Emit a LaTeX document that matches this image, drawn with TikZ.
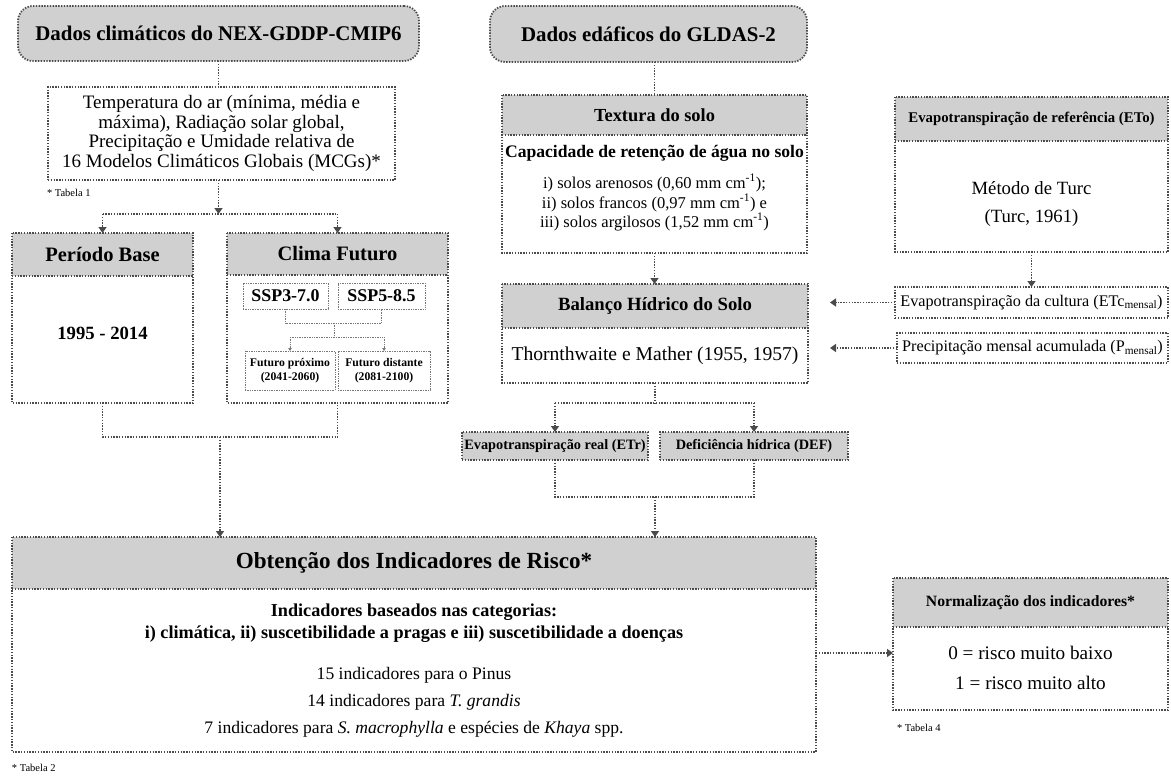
\documentclass[tikz,border=0pt]{standalone}
\usepackage{fontspec}
\setmainfont{Liberation Serif}
\usetikzlibrary{arrows.meta}
\definecolor{hdr}{RGB}{208,208,208}
\definecolor{brd}{RGB}{75,75,75}
\definecolor{thinbrd}{RGB}{120,120,120}
\newcommand{\fsz}[2]{\fontsize{#1}{#2}\selectfont}
\begin{document}
\begin{tikzpicture}[x=1pt,y=-1pt,
  dotl/.style={draw=brd, line width=1.8pt, dash pattern=on 1.4pt off 1.4pt},
  thind/.style={draw=thinbrd, line width=0.8pt, dash pattern=on 0.8pt off 0.9pt},
  hfill/.style={fill=hdr, draw=none, inner sep=0pt, outer sep=0pt, anchor=north west, align=center},
  wfill/.style={fill=white, draw=none, inner sep=0pt, outer sep=0pt, anchor=north west, align=center},
  arr/.style={dotl, -{Triangle[width=8pt,length=6pt]}, color=brd},
  thinarr/.style={thind, -{Triangle[width=3.5pt,length=3pt]}, color=thinbrd},
  txt/.style={inner sep=0pt, outer sep=0pt, align=center},
  note/.style={inner sep=0pt, outer sep=0pt, anchor=west, font=\fsz{10.5}{12}},
  smallbox/.style={fill=white, thind, inner sep=0pt, outer sep=0pt, anchor=north west, align=center}
]
\useasboundingbox (0,0) rectangle (1171,776);
\fill[white] (0,0) rectangle (1171,776);

% ---------- top headers ----------
\node[fill=hdr, dotl, rounded corners=15pt, minimum width=401pt, minimum height=55pt,
      anchor=north west, inner sep=0pt, outer sep=0pt, font=\fsz{20.9}{23}\bfseries]
      (h1) at (18,6) {Dados climáticos do NEX-GDDP-CMIP6};
\node[fill=hdr, dotl, rounded corners=15pt, minimum width=317pt, minimum height=56pt,
      anchor=north west, inner sep=0pt, outer sep=0pt, font=\fsz{20.9}{23}\bfseries]
      (h2) at (490,6) {Dados edáficos do GLDAS-2};

% ---------- climate data box ----------
\node[wfill, dotl, minimum width=347pt, minimum height=93pt, font=\fsz{19}{19.5}]
      (temp) at (48,87) {Temperatura do ar (mínima, média e\\máxima), Radiação solar global,\\Precipitação e Umidade relativa de\\16 Modelos Climáticos Globais (MCGs)*};
\node[note] (tab1) at (47,193) {* Tabela 1};

% ---------- Periodo Base ----------
\node[hfill, minimum width=181pt, minimum height=43pt, font=\fsz{20.5}{22}\bfseries] (pbH) at (12,233) {Período Base};
\node[wfill, minimum width=181pt, minimum height=127pt] (pbB) at (12,276) {};
\draw[dotl] (pbH.north west) rectangle (pbB.south east);
\draw[dotl] (pbH.south west) -- (pbH.south east);
\node[txt, font=\fsz{18.7}{20}\bfseries] (pbT) at (102.5,333) {1995 - 2014};

% ---------- Clima Futuro ----------
\node[hfill, minimum width=221pt, minimum height=42pt, font=\fsz{20.5}{22}\bfseries] (cfH) at (227,233) {Clima Futuro};
\node[wfill, minimum width=221pt, minimum height=128pt] (cfB) at (227,275) {};
\draw[dotl] (cfH.north west) rectangle (cfB.south east);
\draw[dotl] (cfH.south west) -- (cfH.south east);
\node[smallbox, minimum width=85pt, minimum height=26pt, font=\fsz{17.9}{19}\bfseries] (ssp3) at (243,283) {SSP3-7.0};
\node[smallbox, minimum width=87pt, minimum height=26pt, font=\fsz{17.9}{19}\bfseries] (ssp5) at (338,283) {SSP5-8.5};
\node[smallbox, minimum width=90pt, minimum height=39pt, font=\fsz{11.7}{14}\bfseries] (fp) at (245,351) {Futuro próximo\\(2041-2060)};
\node[smallbox, minimum width=92pt, minimum height=39pt, font=\fsz{11.7}{14}\bfseries] (fd) at (338,351) {Futuro distante\\(2081-2100)};
\coordinate (sj) at (334,323);
\coordinate (fj) at (334,337);
\draw[thind] (ssp3.south) |- (sj) -| (ssp5.south);
\draw[thind] (sj) -- (fj);
\draw[thind] (fp.north |- fj) -- (fd.north |- fj);
\draw[thinarr] (fp.north |- fj) -- (fp.north);
\draw[thinarr] (fd.north |- fj) -- (fd.north);

% connectors climate
\coordinate (y214) at (0,214);
\draw[dotl] (h1.south) -- (h1.south |- temp.north);
\draw[arr] (temp.south -| h1.south) -- (h1.south |- y214);
\draw[dotl] (pbH.north |- y214) -- (cfH.north |- y214);
\draw[arr] (pbH.north |- y214) -- (pbH.north);
\draw[arr] (cfH.north |- y214) -- (cfH.north);

% ---------- Textura do solo ----------
\node[hfill, minimum width=305pt, minimum height=40pt, font=\fsz{18.4}{20}\bfseries] (texH) at (502,95) {Textura do solo};
\node[wfill, minimum width=305pt, minimum height=118pt] (texB) at (502,135) {};
\draw[dotl] (texH.north west) rectangle (texB.south east);
\draw[dotl] (texH.south west) -- (texH.south east);
\node[txt, font=\fsz{17.6}{19}\bfseries] (cap) at (654.5,153) {Capacidade de retenção de água no solo};
\node[txt, font=\fsz{16.5}{18}] (s1) at (654.5,183) {i) solos arenosos (0,60 mm cm\textsuperscript{-1});};
\node[txt, font=\fsz{16.5}{18}] (s2) at (654.5,203) {ii) solos francos (0,97 mm cm\textsuperscript{-1}) e};
\node[txt, font=\fsz{16.5}{18}] (s3) at (654.5,222) {iii) solos argilosos (1,52 mm cm\textsuperscript{-1})};
\draw[dotl] (texH.north |- h2.south) -- (texH.north);

% ---------- Balanco ----------
\node[hfill, minimum width=306pt, minimum height=44pt, font=\fsz{18.7}{20}\bfseries] (balH) at (502,284) {Balanço Hídrico do Solo};
\node[wfill, minimum width=306pt, minimum height=55pt, font=\fsz{19.6}{21}] (balB) at (502,328) {Thornthwaite e Mather (1955, 1957)};
\draw[dotl] (balH.north west) rectangle (balB.south east);
\draw[dotl] (balH.south west) -- (balH.south east);
\draw[arr] (texB.south) -- (texB.south |- balH.north);

% ---------- ETr / DEF ----------
\node[hfill, dotl, minimum width=186pt, minimum height=28pt, font=\fsz{14.3}{16}\bfseries] (etr) at (462,432) {Evapotranspiração real (ETr)};
\node[hfill, dotl, minimum width=188pt, minimum height=28pt, font=\fsz{14.3}{16}\bfseries] (def) at (660,432) {Deficiência hídrica (DEF)};
\coordinate (bj) at (655,403);
\draw[dotl] (balB.south) -- (balB.south |- bj);
\draw[dotl] (etr.north |- bj) -- (def.north |- bj);
\draw[arr] (etr.north |- bj) -- (etr.north);
\draw[arr] (def.north |- bj) -- (def.north);

% ---------- ETo ----------
\node[hfill, minimum width=273pt, minimum height=44pt, font=\fsz{14.8}{16}\bfseries] (etoH) at (895,97) {Evapotranspiração de referência (ETo)};
\node[wfill, minimum width=273pt, minimum height=111pt] (etoB) at (895,141) {};
\draw[dotl] (etoH.north west) rectangle (etoB.south east);
\draw[dotl] (etoH.south west) -- (etoH.south east);
\node[txt, font=\fsz{18.7}{20}] (turc1) at (1031.5,188) {Método de Turc};
\node[txt, font=\fsz{18.7}{20}] (turc2) at (1031.5,218) {(Turc, 1961)};
\node[wfill, dotl, minimum width=273pt, minimum height=31pt, font=\fsz{16.2}{18}] (etc) at (895,287) {Evapotranspiração da cultura (ETc\textsubscript{mensal})};
\node[wfill, dotl, minimum width=271pt, minimum height=30pt, font=\fsz{16.2}{18}] (prec) at (897,333) {Precipitação mensal acumulada (P\textsubscript{mensal})};
\draw[arr] (etoB.south) -- (etoB.south |- etc.north);
\coordinate (ax) at (830,0);
\draw[arr] (etc.west) -- (etc.west -| ax);
\draw[arr] (prec.west) -- (prec.west -| ax);

% ---------- Risk box ----------
\node[hfill, minimum width=804pt, minimum height=52pt, font=\fsz{23.1}{25}\bfseries] (riskH) at (12,537) {Obtenção dos Indicadores de Risco*};
\node[wfill, minimum width=804pt, minimum height=163pt] (riskB) at (12,589) {};
\draw[dotl] (riskH.north west) rectangle (riskB.south east);
\draw[dotl] (riskH.south west) -- (riskH.south east);
\node[txt, font=\fsz{18.2}{20}\bfseries] (r1) at (414,612) {Indicadores baseados nas categorias:};
\node[txt, font=\fsz{18.2}{20}\bfseries] (r2) at (414,634) {i) climática, ii) suscetibilidade a pragas e iii) suscetibilidade a doenças};
\node[txt, font=\fsz{17.6}{19}] (r3) at (414,675) {15 indicadores para o Pinus};
\node[txt, font=\fsz{17.6}{19}] (r4) at (414,702) {14 indicadores para \textit{T. grandis}};
\node[txt, font=\fsz{17.6}{19}] (r5) at (414,729) {7 indicadores para \textit{S. macrophylla} e espécies de \textit{Khaya} spp.};
\node[note] (tab2) at (12,768) {* Tabela 2};

% left and middle joins to risk
\coordinate (lj) at (220,437);
\draw[dotl] (pbB.south) -- (pbB.south |- lj) -- (cfB.south |- lj) -- (cfB.south);
\draw[arr] (lj) -- (lj |- riskH.north);
\coordinate (ej) at (655,497);
\draw[dotl] (etr.south) -- (etr.south |- ej) -- (def.south |- ej) -- (def.south);
\draw[arr] (ej) -- (ej |- riskH.north);

% ---------- Normalizacao ----------
\node[hfill, minimum width=275pt, minimum height=49pt, font=\fsz{15.7}{17}\bfseries] (normH) at (893,578) {Normalização dos indicadores*};
\node[wfill, minimum width=275pt, minimum height=83pt] (normB) at (893,627) {};
\draw[dotl] (normH.north west) rectangle (normB.south east);
\draw[dotl] (normH.south west) -- (normH.south east);
\node[txt, font=\fsz{19.2}{20}] (n0) at (1030.5,653) {0 = risco muito baixo};
\node[txt, font=\fsz{19.2}{20}] (n1) at (1030.5,683) {1 = risco muito alto};
\node[note] (tab4) at (897,728) {* Tabela 4};
\draw[arr] (n0 -| riskB.east) -- (n0 -| normB.west);
\end{tikzpicture}
\end{document}
